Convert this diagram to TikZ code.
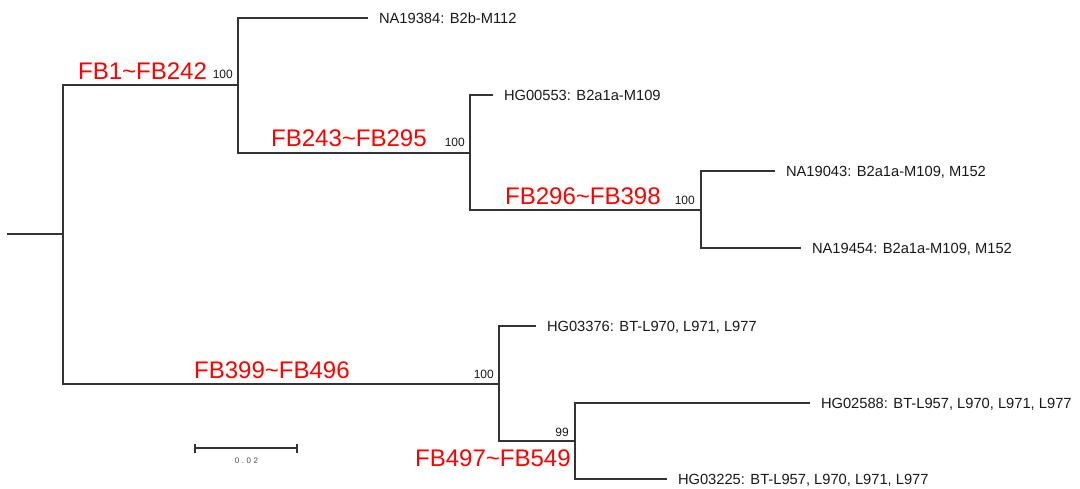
\documentclass[tikz,border=0pt]{standalone}
\usepackage{fontspec}
\setmainfont{Liberation Sans}
\definecolor{branch}{HTML}{333333}
\definecolor{fbred}{HTML}{FF0000}
\tikzset{
  edge/.style={draw=branch, line width=1.3pt, line cap=rect},
  leaf/.style={font=\fontsize{14.7}{16}\selectfont, text=black!90, text height=10.5pt, text depth=0pt, inner sep=0pt, outer xsep=12pt, outer ysep=0pt, anchor=west},
  fb/.style={font=\fontsize{24}{28}\selectfont, text=fbred, inner sep=0pt, anchor=base west},
  boot/.style={font=\fontsize{12}{14}\selectfont, text=black!90, inner sep=0pt, anchor=base east},
  scalelab/.style={font=\fontsize{8}{10}\selectfont, text=black!70, inner sep=0pt}
}
\begin{document}
\begin{tikzpicture}[x=1pt,y=1pt]
\useasboundingbox (0,0) rectangle (1080,-489);
% internal nodes
\coordinate (R0) at (8,-234);
\coordinate (R) at (63,-234);
\coordinate (A) at (238,-85);
\coordinate (B) at (470,-153);
\coordinate (C) at (701,-210);
\coordinate (D) at (499,-384);
\coordinate (E) at (575,-441);
% leaves
\node[leaf] (l1) at (367,-18) {NA19384: B2b-M112};
\node[leaf] (l2) at (492,-95) {HG00553: B2a1a-M109};
\node[leaf] (l3) at (774,-171) {NA19043: B2a1a-M109, M152};
\node[leaf] (l4) at (800,-248) {NA19454: B2a1a-M109, M152};
\node[leaf] (l5) at (535,-326) {HG03376: BT-L970, L971, L977};
\node[leaf] (l6) at (809,-403) {HG02588: BT-L957, L970, L971, L977};
\node[leaf] (l7) at (666,-479) {HG03225: BT-L957, L970, L971, L977};
% branches
\draw[edge] (R0) -- (R);
\draw[edge] (R) |- (A);
\draw[edge] (R) |- (D);
\draw[edge] (A) |- (l1.west);
\draw[edge] (A) |- (B);
\draw[edge] (B) |- (l2.west);
\draw[edge] (B) |- (C);
\draw[edge] (C) |- (l3.west);
\draw[edge] (C) |- (l4.west);
\draw[edge] (D) |- (l5.west);
\draw[edge] (D) |- (E);
\draw[edge] (E) |- (l6.west);
\draw[edge] (E) |- (l7.west);
% clade labels
\node[fb] (f1) at (78,-80) {FB1\char`~FB242};
\node[fb] (f2) at (271,-147) {FB243\char`~FB295};
\node[fb] (f3) at (505,-205) {FB296\char`~FB398};
\node[fb] (f4) at (194,-378) {FB399\char`~FB496};
\node[fb] (f5) at (415,-466) {FB497\char`~FB549};
% bootstrap values
\node[boot] (b1) at (233,-79) {100};
\node[boot] (b2) at (465,-147) {100};
\node[boot] (b3) at (695,-205) {100};
\node[boot] (b4) at (494,-378) {100};
\node[boot] (b5) at (569,-436) {99};
% scale bar
\coordinate (s1) at (195,-448);
\coordinate (s2) at (297,-448);
\draw[edge, line width=1.2pt, line cap=butt] (s1) -- (s2);
\draw[edge, line width=1.2pt, line cap=butt] ([yshift=4.5pt]s1) -- ([yshift=-4.5pt]s1);
\draw[edge, line width=1.2pt, line cap=butt] ([yshift=4.5pt]s2) -- ([yshift=-4.5pt]s2);
\node[scalelab] (sl) at (246.5,-461) {0\hspace{2.6pt}.\hspace{2.6pt}0\hspace{2.6pt}2};
\end{tikzpicture}
\end{document}
